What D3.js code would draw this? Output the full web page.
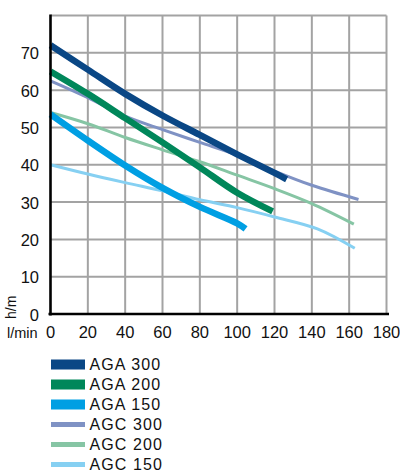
<!DOCTYPE html>
<html><head><meta charset="utf-8">
<script src="https://cdn.jsdelivr.net/npm/d3@7/dist/d3.min.js"></script>
<style>
html,body{margin:0;padding:0;background:#fff;}
svg{display:block;font-family:"Liberation Sans",Arial,Helvetica,sans-serif;}
</style></head>
<body><svg id="c" width="400" height="472"></svg>
<script>
const seriesNames = ["AGA 300","AGA 200","AGA 150","AGC 300","AGC 200","AGC 150"];
const seriesColors = ["#0a4785","#00875a","#009fe3","#7f92c4","#86c5a4","#86d0f2"];
const seriesWidths = [6.5,6.5,6.5,3,3,3];
const legendHeights = [10,10,10,5,5,5];
const flowAGA300 = [0,20,40,60,80,100,120,126.5];
const headAGA300 = [72,65.5,59,53.2,48,42.8,37.8,36.1];
const flowAGA200 = [0,20,40,60,80,100,119];
const headAGA200 = [65,59,52.5,46,39.3,32.5,27.5];
const flowAGA150 = [0,20,40,60,80,100,104.5];
const headAGA150 = [53.5,46.5,39.8,33.8,28.7,24.3,22.8];
const flowAGC300 = [0,20,40,60,80,100,120,140,165];
const headAGC300 = [62.5,58,53,49.4,46,42.6,38.3,34.5,30.7];
const flowAGC200 = [0,20,40,60,80,100,120,140,162.5];
const headAGC200 = [54,51,47.3,44,40.8,37.2,33.6,29.6,24.1];
const flowAGC150 = [0,20,40,60,80,100,120,143,163];
const headAGC150 = [40,37.5,35.2,33,30.6,28.5,26,22.8,17.6];
const xTicks = [0,20,40,60,80,100,120,140,160,180];
const yTicks = [0,10,20,30,40,50,60,70];
const xLabel = "l/min";
const yLabel = "h/m";

const flows = [flowAGA300,flowAGA200,flowAGA150,flowAGC300,flowAGC200,flowAGC150];
const heads = [headAGA300,headAGA200,headAGA150,headAGC300,headAGC200,headAGC150];

const svg = d3.select("#c");
const x = d3.scaleLinear().domain([0,180]).range([50.5,386.5]);
const y = d3.scaleLinear().domain([0,80]).range([314,15.5]);

// grid
const grid = svg.append("g").attr("stroke","#a3a3a3").attr("stroke-width",2);
d3.range(20,181,20).forEach(v=>{
  grid.append("line").attr("x1",x(v)).attr("x2",x(v)).attr("y1",y(80)).attr("y2",y(0));
});
d3.range(10,81,10).forEach(v=>{
  grid.append("line").attr("x1",x(0)).attr("x2",x(180)).attr("y1",y(v)).attr("y2",y(v));
});

const line = d3.line().curve(d3.curveCatmullRom.alpha(0.5)).x(d=>x(d[0])).y(d=>y(d[1]));
const order = [3,4,5,0,1,2];
order.forEach(i=>{
  const pts = flows[i].map((f,k)=>[f,heads[i][k]]);
  svg.append("path").attr("d",line(pts)).attr("fill","none")
    .attr("stroke",seriesColors[i]).attr("stroke-width",seriesWidths[i])
    .attr("stroke-linecap","butt").attr("stroke-linejoin","round");
});

// axes
svg.append("line").attr("x1",x(0)).attr("x2",x(0)).attr("y1",y(80)-1).attr("y2",y(0)+1.5)
  .attr("stroke","#000").attr("stroke-width",2.6);
svg.append("line").attr("x1",x(0)-2).attr("x2",x(180)+2.5).attr("y1",y(0)).attr("y2",y(0))
  .attr("stroke","#000").attr("stroke-width",2.6);

// tick labels
svg.append("g").selectAll("text").data(yTicks).join("text")
  .attr("x",39).attr("y",d=>y(d)+6.5).attr("text-anchor","end")
  .attr("font-size",16.5).attr("fill","#111").text(d=>d);
svg.append("g").selectAll("text").data(xTicks).join("text")
  .attr("x",d=>x(d)).attr("y",338).attr("text-anchor","middle")
  .attr("font-size",16.5).attr("fill","#111").text(d=>d);
svg.append("text").attr("x",7).attr("y",337.5).attr("font-size",14.5).attr("fill","#111").text(xLabel);
svg.append("text").attr("transform","translate(16,319) rotate(-90)")
  .attr("font-size",14).attr("fill","#111").text(yLabel);

// legend
const lg = svg.append("g");
seriesNames.forEach((n,i)=>{
  const cy = 364.5 + 20*i;
  lg.append("rect").attr("x",51).attr("y",cy-legendHeights[i]/2).attr("width",34)
    .attr("height",legendHeights[i]).attr("fill",seriesColors[i]);
  lg.append("text").attr("x",89.5).attr("y",cy+5.8).attr("font-size",16)
    .attr("letter-spacing",1.1).attr("fill","#111").text(n);
});
</script></body></html>
